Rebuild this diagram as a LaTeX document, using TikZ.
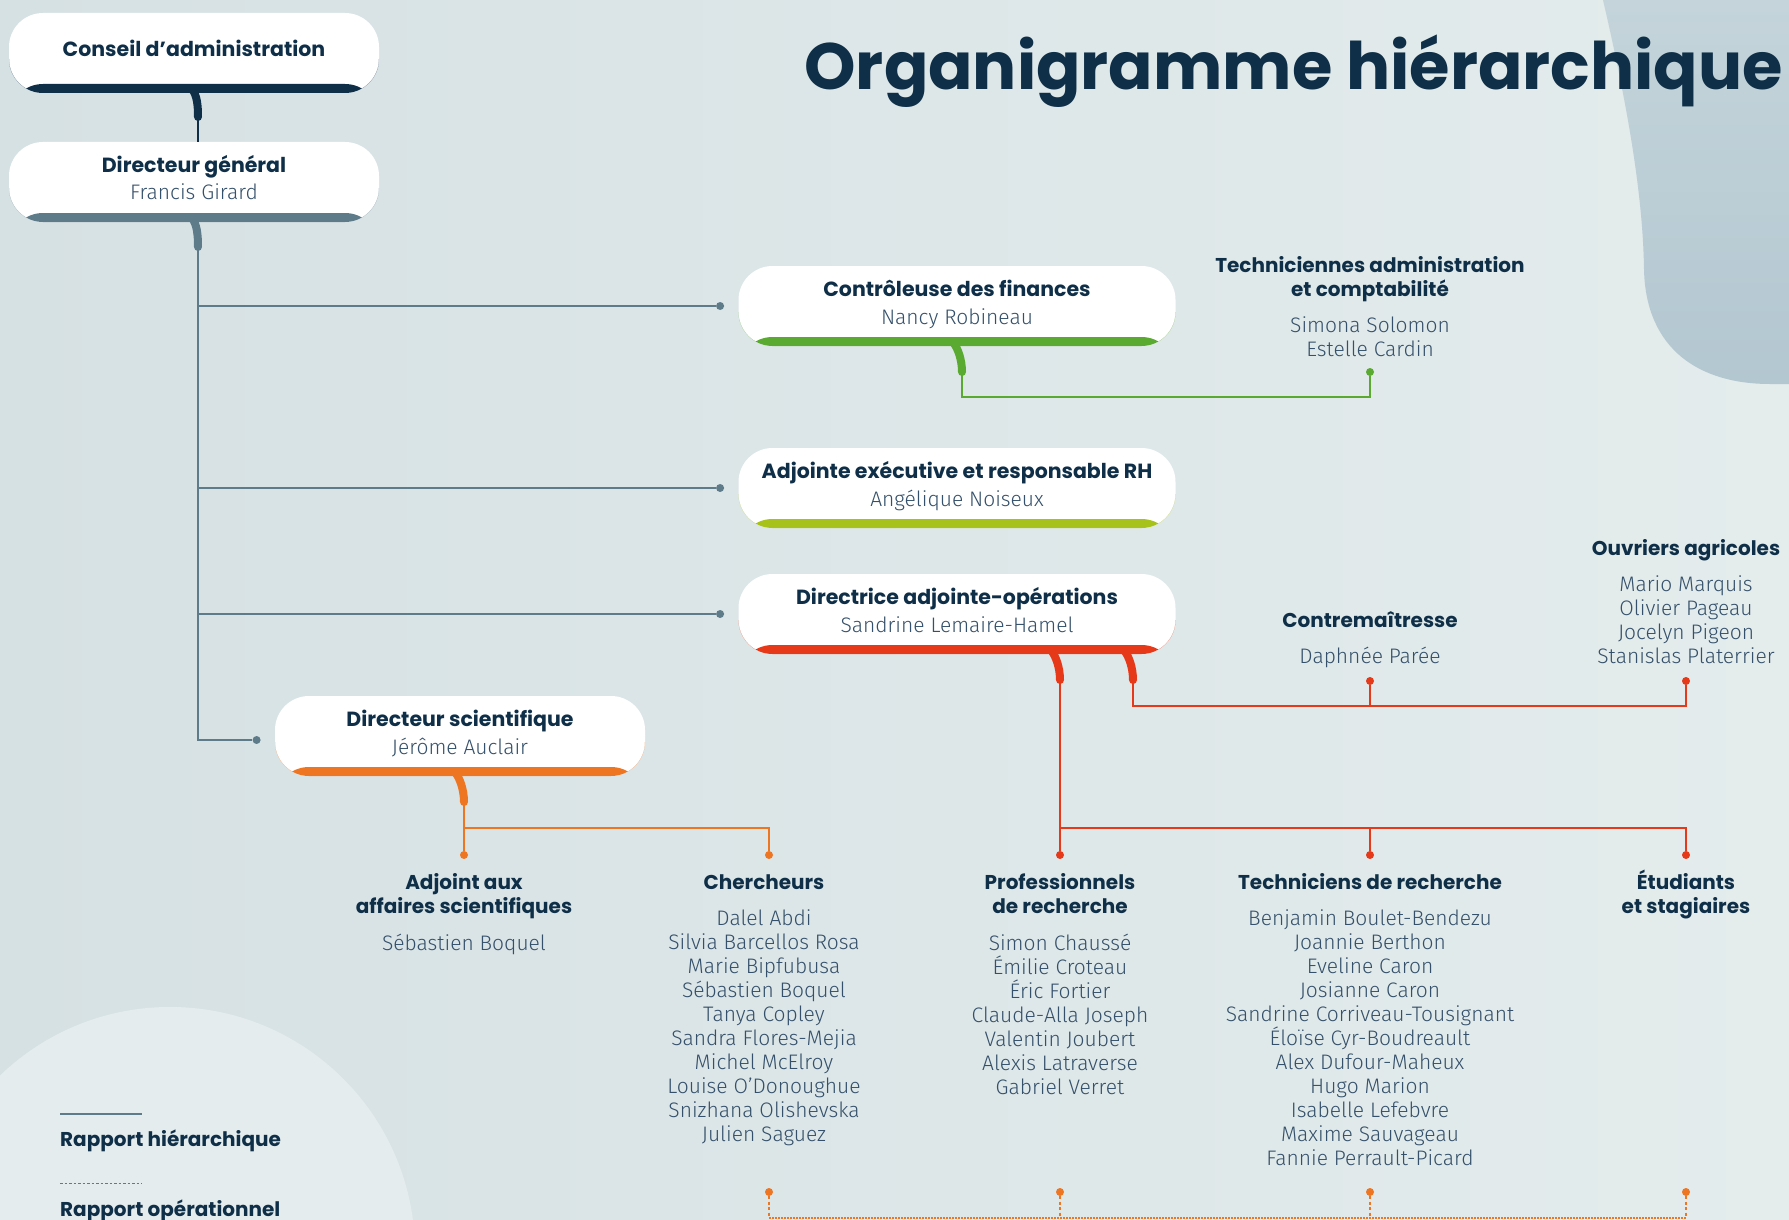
\documentclass[tikz,border=0pt]{standalone}
\usepackage{fontspec}
\usepackage{tikz}
\usetikzlibrary{positioning}
\setmainfont{Poppins}
\newfontfamily\titrefont{Poppins}
\newfontfamily\nomfont{Fira Sans Light}

\definecolor{marine}{HTML}{0E2F47}
\definecolor{ardoise}{HTML}{5E7B8A}
\definecolor{vert}{HTML}{5AAA32}
\definecolor{lime}{HTML}{A7C31B}
\definecolor{rouge}{HTML}{E5391A}
\definecolor{orange}{HTML}{EE7623}
\definecolor{nomcoul}{HTML}{34506A}
\definecolor{fondg}{HTML}{D6E1E4}
\definecolor{fondd}{HTML}{E4ECEC}
\definecolor{cercle}{HTML}{E5ECEE}
\definecolor{tachehaut}{HTML}{C4D4DA}
\definecolor{tachebas}{HTML}{B3C7D1}

% struts: same text height and depth in every card
\newcommand{\haut}{\rule{0pt}{20pt}}
\newcommand{\bas}{\rule[-12pt]{0pt}{12pt}}
\newcommand{\intitule}[1]{{\haut\titrefont\bfseries\fontsize{20.5}{28}\selectfont\color{marine}#1}}
\newcommand{\personne}[1]{{\nomfont\fontsize{21}{28}\selectfont\color{nomcoul}#1\bas}}

\begin{document}
\begin{tikzpicture}[x=1pt, y=-1pt,
  carte/.style={rectangle, rounded corners=34pt, fill=white, minimum height=80pt, inner sep=0pt,
    align=center, font=\fontsize{20}{28}\selectfont,
    path picture={\fill[#1] (path picture bounding box.south west) rectangle ([yshift=9pt]path picture bounding box.south east);}},
  crochet/.style={draw=#1, line width=8pt, line cap=round},
  lien/.style={draw=#1, line width=1.3pt},
  point/.style={circle, fill=#1, inner sep=0pt, minimum size=8pt},
  entete/.style={align=center, inner sep=0pt, text=marine, font=\titrefont\bfseries\fontsize{20}{24}\selectfont},
  liste/.style={align=center, inner sep=0pt, text=nomcoul, font=\nomfont\fontsize{21}{24}\selectfont},
  tirets/.style={draw=orange, line width=1.2pt, dash pattern=on 3pt off 2.5pt},
  pointilles/.style={draw=orange, line width=1.2pt, dash pattern=on 1.5pt off 1.5pt}]
 % fond
 \useasboundingbox (0,0) rectangle (1789,1220);
 \shade[left color=fondg, right color=fondd] (0,0) rectangle (1789,1220);
 \fill[cercle] (170,1252) circle[radius=245];
 \shade[top color=tachehaut, bottom color=tachebas] (1603,0) .. controls (1625,95) and (1643,190) .. (1644,270)
   .. controls (1646,350) and (1700,384) .. (1770,384) -- (1789,384) -- (1789,0) -- cycle;
 \node [anchor=base east, inner sep=0pt, text=marine, font=\titrefont\bfseries\fontsize{65.5}{70}\selectfont] (titre) at (1783,90) {Organigramme hiérarchique};

 % cartes
 \node [carte=marine,  minimum width=370pt] (conseil) at (194,53)  {\intitule{Conseil d’administration}\bas};
 \node [carte=ardoise, minimum width=370pt] (dg)      at (194,182) {\intitule{Directeur général}\\\personne{Francis Girard}};
 \node [carte=vert,    minimum width=437pt] (fin)     at (957,306) {\intitule{Contrôleuse des finances}\\\personne{Nancy Robineau}};
 \node [carte=lime,    minimum width=437pt] (rh)      at (957,488) {\intitule{Adjointe exécutive et responsable RH}\\\personne{Angélique Noiseux}};
 \node [carte=rouge,   minimum width=437pt] (ops)     at (957,614) {\intitule{Directrice adjointe-opérations}\\\personne{Sandrine Lemaire-Hamel}};
 \node [carte=orange,  minimum width=370pt] (sci)     at (460,736) {\intitule{Directeur scientifique}\\\personne{Jérôme Auclair}};

 % crochets
 \coordinate (conseil-h) at (198,117);
 \coordinate (dg-h)      at (198,247);
 \coordinate (fin-h)     at (962,372);
 \coordinate (ops-h1)    at (1060,680);
 \coordinate (ops-h2)    at (1133,680);
 \coordinate (sci-h)     at (464,802);
 \draw [crochet=marine]  ([xshift=-2pt,yshift=4pt]conseil.south) .. controls +(5,6) and +(0,-12) .. (conseil-h);
 \draw [crochet=ardoise] ([xshift=-2pt,yshift=4pt]dg.south)      .. controls +(5,6) and +(0,-12) .. (dg-h);
 \draw [crochet=vert]    ([xshift=-4pt,yshift=4pt]fin.south)     .. controls +(5,6) and +(0,-12) .. (fin-h);
 \draw [crochet=rouge]   ([xshift=94pt,yshift=4pt]ops.south)     .. controls +(5,6) and +(0,-12) .. (ops-h1);
 \draw [crochet=rouge]   ([xshift=167pt,yshift=4pt]ops.south)    .. controls +(5,6) and +(0,-12) .. (ops-h2);
 \draw [crochet=orange]  ([xshift=-5pt,yshift=4pt]sci.south)     .. controls +(5,6) and +(0,-12) .. (sci-h);

 % textes
 \node [entete, anchor=north] (adm) at (1370,256) {Techniciennes administration\\et comptabilité};
 \node [liste, below=15pt of adm] (adm-n) {Simona Solomon\\Estelle Cardin};
 \node [entete, anchor=north] (contre) at (1370,611) {Contremaîtresse};
 \node [liste, below=19pt of contre] (contre-n) {Daphnée Parée};
 \node [entete, anchor=north] (ouv) at (1686,539) {Ouvriers agricoles};
 \node [liste, below=15pt of ouv] (ouv-n) {Mario Marquis\\Olivier Pageau\\Jocelyn Pigeon\\Stanislas Platerrier};
 \node [entete, anchor=north] (adj) at (464,873) {Adjoint aux\\affaires scientifiques};
 \node [liste, below=15pt of adj] (adj-n) {Sébastien Boquel};
 \node [entete, anchor=north] (cher) at (764,874) {Chercheurs};
 \node [liste, below=20pt of cher] (cher-n) {Dalel Abdi\\Silvia Barcellos Rosa\\Marie Bipfubusa\\Sébastien Boquel\\Tanya Copley\\Sandra Flores-Mejia\\Michel McElroy\\Louise O’Donoughue\\Snizhana Olishevska\\Julien Saguez};
 \node [entete, anchor=north] (pro) at (1060,873) {Professionnels\\de recherche};
 \node [liste, below=20pt of pro] (pro-n) {Simon Chaussé\\Émilie Croteau\\Éric Fortier\\Claude-Alla Joseph\\Valentin Joubert\\Alexis Latraverse\\Gabriel Verret};
 \node [entete, anchor=north] (tech) at (1370,873) {Techniciens de recherche};
 \node [liste, below=20pt of tech] (tech-n) {Benjamin Boulet-Bendezu\\Joannie Berthon\\Eveline Caron\\Josianne Caron\\Sandrine Corriveau-Tousignant\\Éloïse Cyr-Boudreault\\Alex Dufour-Maheux\\Hugo Marion\\Isabelle Lefebvre\\Maxime Sauvageau\\Fannie Perrault-Picard};
 \node [entete, anchor=north] (etu) at (1686,870) {Étudiants\\et stagiaires};

 % points
 \node [point=ardoise, left=14pt of fin] (d-fin) {};
 \node [point=ardoise, left=14pt of rh]  (d-rh)  {};
 \node [point=ardoise, left=14pt of ops] (d-ops) {};
 \node [point=ardoise, left=14pt of sci, yshift=-4pt] (d-sci) {};
 \node [point=vert]   (d-adm)    at (1370,372) {};
 \node [point=rouge]  (d-contre) at (1370,681) {};
 \node [point=rouge]  (d-ouv)    at (1686,681) {};
 \node [point=orange] (d-adj)    at (464,855)  {};
 \node [point=orange] (d-cher)   at (769,855)  {};
 \node [point=rouge]  (d-pro)    at (1060,855) {};
 \node [point=rouge]  (d-tech)   at (1370,855) {};
 \node [point=rouge]  (d-etu)    at (1686,855) {};
 \node [point=orange] (b-cher)   at (769,1192) {};
 \node [point=orange] (b-pro)    at (1060,1192) {};
 \node [point=orange] (b-tech)   at (1370,1192) {};
 \node [point=orange] (b-etu)    at (1686,1192) {};

 % liens hierarchiques
 \draw [lien=marine] (conseil-h) -- (conseil-h |- dg.north);
 \draw [lien=ardoise] (dg-h) |- (d-fin);
 \draw [lien=ardoise] (dg-h) |- (d-rh);
 \draw [lien=ardoise] (dg-h) |- (d-ops);
 \draw [lien=ardoise] (dg-h) |- (d-sci);
 \draw [lien=vert] (fin-h) -- ++(0,25) -| (d-adm);
 \draw [lien=rouge] (ops-h1) -- (d-pro);
 \draw [lien=rouge] (ops-h1) -- ++(0,148) -| (d-tech);
 \draw [lien=rouge] (ops-h1) -- ++(0,148) -| (d-etu);
 \draw [lien=rouge] (ops-h2) -- ++(0,26) -| (d-contre);
 \draw [lien=rouge] (ops-h2) -- ++(0,26) -| (d-ouv);
 \draw [lien=orange] (sci-h) -- (d-adj);
 \draw [lien=orange] (sci-h) -- ++(0,26) -| (d-cher);

 % liens operationnels
 \draw [tirets] (b-cher) -- ++(0,26);
 \draw [tirets] (b-pro)  -- ++(0,26);
 \draw [tirets] (b-tech) -- ++(0,26);
 \draw [tirets] (b-etu)  -- ++(0,26);
 \draw [pointilles] ([yshift=-26pt]b-cher.center) -- ([yshift=-26pt]b-etu.center);

 % legende
 \draw [lien=ardoise] (60,1114) -- (142,1114);
 \node [entete, anchor=base west] (leg-h) at (60,1146) {Rapport hiérarchique};
 \draw [ardoise, line width=1pt, dash pattern=on 2.5pt off 2pt] (60,1183) -- (142,1183);
 \node [entete, anchor=base west] (leg-o) at (60,1216) {Rapport opérationnel};
\end{tikzpicture}
\end{document}
